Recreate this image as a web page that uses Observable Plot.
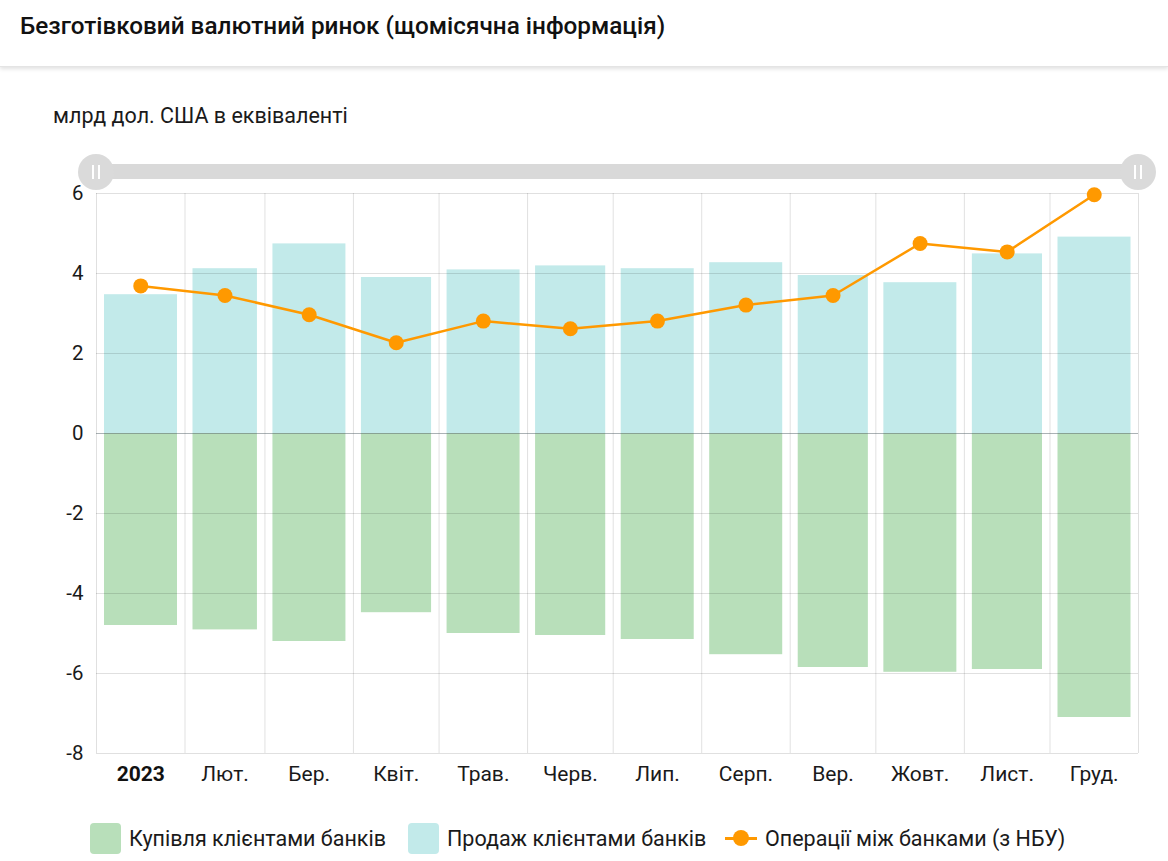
<!DOCTYPE html>
<html>
<head>
<meta charset="utf-8">
<script src="https://cdn.jsdelivr.net/npm/d3@7"></script>
<script src="https://cdn.jsdelivr.net/npm/@observablehq/plot@0.6"></script>
<style>
  html, body { margin: 0; padding: 0; background: #fff; }
  body { width: 1168px; height: 861px; position: relative; overflow: hidden; font-family: Roboto, "Noto Sans", sans-serif; color: #111; }
  #header { position: absolute; left: 0; top: 0; width: 1168px; height: 66px; background: #fff; border-bottom: 1px solid #e4e4e4; box-shadow: 0 2px 4px rgba(0,0,0,0.12); }
  #title { position: absolute; left: 20px; top: 11px; font-size: 24.3px; font-weight: 500; color: #111; white-space: nowrap; }
  #subtitle { position: absolute; left: 53px; top: 103px; font-size: 21.5px; color: #1a1a1a; white-space: nowrap; }
  #chart { position: absolute; left: 0; top: 140px; }
  .sb-bar { position: absolute; left: 96px; top: 164px; width: 1042px; height: 15px; background: #d9d9d9; }
  .sb-handle { position: absolute; top: 154px; width: 36px; height: 36px; border-radius: 50%; background: #dadada; }
  .sb-handle::before, .sb-handle::after { content: ""; position: absolute; top: 11px; width: 2px; height: 14px; background: #fff; }
  .sb-handle::before { left: 14px; }
  .sb-handle::after { left: 20px; }
  #legend { position: absolute; left: 0; top: 822px; width: 1168px; height: 32px; font-size: 21.5px; color: #1a1a1a; }
  .lg-item { position: absolute; top: 0; height: 32px; display: flex; align-items: center; white-space: nowrap; }
  .lg-sq { width: 31px; height: 31px; border-radius: 4px; margin-right: 8px; }
  .lg-line { position: relative; width: 32px; height: 31px; margin-right: 8px; }
  .lg-line::before { content: ""; position: absolute; left: 0; right: 0; top: 14px; height: 3px; background: #ff9900; }
  .lg-line::after { content: ""; position: absolute; left: 8px; top: 7.5px; width: 16px; height: 16px; border-radius: 50%; background: #ff9900; }
</style>
</head>
<body>
<div id="header"><div id="title">Безготівковий валютний ринок (щомісячна інформація)</div></div>
<div id="subtitle">млрд дол. США в еквіваленті</div>
<div id="chart"></div>
<div class="sb-bar"></div>
<div class="sb-handle" style="left:78px"></div>
<div class="sb-handle" style="left:1120px"></div>
<div id="legend">
  <div class="lg-item" style="left:90px"><div class="lg-sq" style="background:#b8dfba"></div><span>Купівля клієнтами банків</span></div>
  <div class="lg-item" style="left:408px"><div class="lg-sq" style="background:#c2eaea"></div><span>Продаж клієнтами банків</span></div>
  <div class="lg-item" style="left:725px"><div class="lg-line"></div><span>Операції між банками (з НБУ)</span></div>
</div>
<script>
// ---- data ----
const months = ["2023-01-01","2023-02-01","2023-03-01","2023-04-01","2023-05-01","2023-06-01",
                "2023-07-01","2023-08-01","2023-09-01","2023-10-01","2023-11-01","2023-12-01"];
const monthLabels = ["2023","Лют.","Бер.","Квіт.","Трав.","Черв.","Лип.","Серп.","Вер.","Жовт.","Лист.","Груд."];
const purchases = [-4.80, -4.91, -5.20, -4.48, -5.00, -5.05, -5.15, -5.53, -5.85, -5.97, -5.90, -7.10];
const sales     = [3.47, 4.12, 4.74, 3.90, 4.09, 4.19, 4.12, 4.27, 3.95, 3.77, 4.49, 4.91];
const interbank = [3.69, 3.45, 2.97, 2.27, 2.81, 2.62, 2.81, 3.21, 3.45, 4.75, 4.54, 5.97];
const yTicks = [-8, -6, -4, -2, 0, 2, 4, 6];
const yearEnd = "2024-01-01";

// ---- build rows ----
const starts = months.map(d => new Date(d + "T00:00:00Z"));
const bounds = [...starts, new Date(yearEnd + "T00:00:00Z")];
const rows = months.map((m, i) => ({
  start: bounds[i],
  end: bounds[i + 1],
  mid: new Date((+bounds[i] + +bounds[i + 1]) / 2),
  label: monthLabels[i],
  buy: purchases[i],
  sell: sales[i],
  inter: interbank[i]
}));

const plot = Plot.plot({
  width: 1168,
  height: 660,
  marginLeft: 96,
  marginRight: 30,
  marginTop: 53,
  marginBottom: 47,
  style: { fontFamily: "Roboto, sans-serif", fontSize: "21px", color: "#1a1a1a", background: "transparent" },
  x: { type: "utc", domain: [bounds[0], bounds[bounds.length - 1]], axis: null },
  y: { domain: [-8, 6], axis: null },
  marks: [
    Plot.rectY(rows, { x1: "start", x2: "end", y: "buy", fill: "#b8dfba", insetLeft: 8, insetRight: 7.5 }),
    Plot.rectY(rows, { x1: "start", x2: "end", y: "sell", fill: "#c2eaea", insetLeft: 8, insetRight: 7.5 }),
    Plot.ruleY(yTicks, { stroke: "#000", strokeOpacity: 0.12 }),
    Plot.ruleX(bounds, { stroke: "#000", strokeOpacity: 0.12 }),
    Plot.ruleY([0], { stroke: "#6a7a80", strokeOpacity: 0.45 }),
    Plot.axisY({ ticks: yTicks, tickSize: 0, tickPadding: 13, tickFormat: d => String(d), fontSize: 20.5, fill: "#1a1a1a" }),
    Plot.text(rows.slice(0, 1), { x: "mid", text: "label", frameAnchor: "bottom", dy: 27, fontWeight: "bold", fontSize: 21, fill: "#111" }),
    Plot.text(rows.slice(1), { x: "mid", text: "label", frameAnchor: "bottom", dy: 27, fontSize: 21, fill: "#1a1a1a" }),
    Plot.line(rows, { x: "mid", y: "inter", stroke: "#ff9900", strokeWidth: 2.5 }),
    Plot.dot(rows, { x: "mid", y: "inter", r: 7.5, fill: "#ff9900", stroke: "none" })
  ]
});
document.getElementById("chart").appendChild(plot);
</script>
</body>
</html>
